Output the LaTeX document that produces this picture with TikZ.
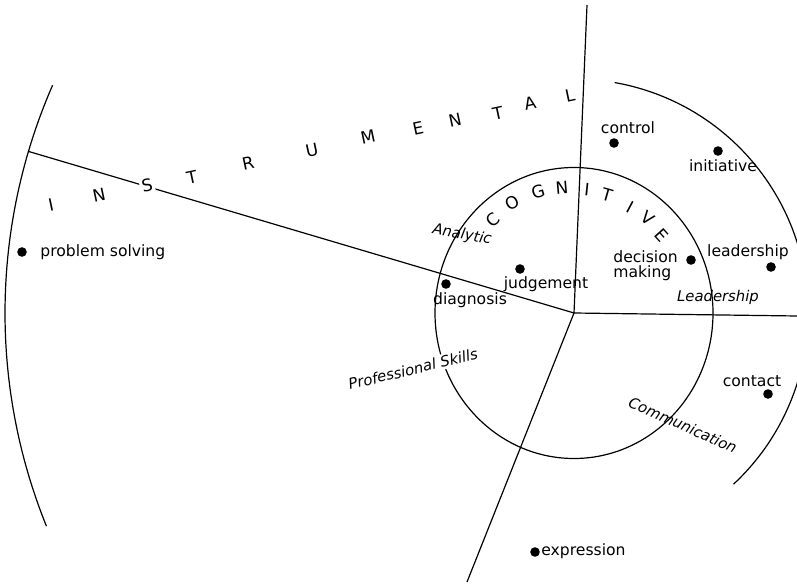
\documentclass[tikz,border=0pt]{standalone}
\usepackage{fontspec}
\setmainfont{DejaVu Sans}

\begin{document}
\begin{tikzpicture}[x=0.5pt, y=0.5pt,
    thinline/.style={line width=0.6pt},
    dot/.style={circle, fill, inner sep=0pt, minimum size=4.8pt},
    lbl/.style={font=\fontsize{7.8}{7.6}\selectfont, inner sep=1pt},
    letter/.style={font=\fontsize{8.5}{9}\selectfont, inner sep=1pt, fill=white},
    area/.style={font=\fontsize{7.4}{8}\selectfont\itshape, inner sep=1pt}
]
\clip (0,0) rectangle (797,584);
\coordinate (O) at (574,271);
\coordinate (topend) at (587,579);
\coordinate (leftend) at ([shift={(163.5:569)}]O);
\coordinate (rightend) at (797,268);
\coordinate (downend) at (467,2);
\draw[thinline] (O) -- (topend);
\draw[thinline] (O) -- (leftend);
\draw[thinline] (O) -- (rightend);
\draw[thinline] (O) -- (downend);
\draw[thinline] (O) ellipse [x radius=139, y radius=145.5];
\draw[thinline] ([shift={(156.4:569)}]O) arc[start angle=156.4, end angle=202, radius=569];
\draw[thinline] ([shift={(80:234)}]O) arc[start angle=80, end angle=-47, radius=234];
\foreach \ch/\x/\y [count=\k] in {I/51/379, N/99/389, S/147/399, T/192/407, R/248/421, U/312/434,
    M/368/447, E/418/456, N/455/464, T/498/471, A/530/481, L/570/489}
  \node[letter, rotate=12] (ins\k) at (\x,\y) {\ch};
\foreach \ch/\x/\y/\r [count=\k] in {C/493/364/41, O/512/381/29, G/538/392/17, N/562/396/5,
    I/587/394/-6, T/607/389/-16, I/630/377/-28, V/648/366/-38, E/662/349/-48}
  \node[letter, fill=none, rotate=\r] (cog\k) at (\x,\y) {\ch};
\node[area, rotate=-10] (analytic) at (462,349) {Analytic};
\node[area] (lead) at (718,287) {Leadership};
\node[area, fill=white, rotate=13.5] (prof) at (413,215) {Professional Skills};
\node[area, rotate=-24] (comm) at (683,159) {Communication};
\node[dot] (ps) at (22,332) {};
\node[lbl, anchor=west] (pstext) at (38,332) {problem solving};
\node[dot] (ctrl) at (614,441) {};
\node[lbl] (ctrltext) at (628,456) {control};
\node[dot] (init) at (718,433) {};
\node[lbl] (inittext) at (723,418) {initiative};
\node[dot] (dec) at (691,324) {};
\node[lbl, anchor=west, align=left] (dectext) at (611,318) {decision\\making};
\node[dot] (ldr) at (771,317) {};
\node[lbl] (ldrtext) at (748,332) {leadership};
\node[dot] (judge) at (520,315) {};
\node[lbl] (judgetext) at (546,300) {judgement};
\node[dot] (diag) at (446,300) {};
\node[lbl] (diagtext) at (470,284) {diagnosis};
\node[dot] (cont) at (768,190) {};
\node[lbl] (conttext) at (752,203) {contact};
\node[dot] (expr) at (535,32) {};
\node[lbl, anchor=west] (exprtext) at (539,33) {expression};
\end{tikzpicture}
\end{document}
